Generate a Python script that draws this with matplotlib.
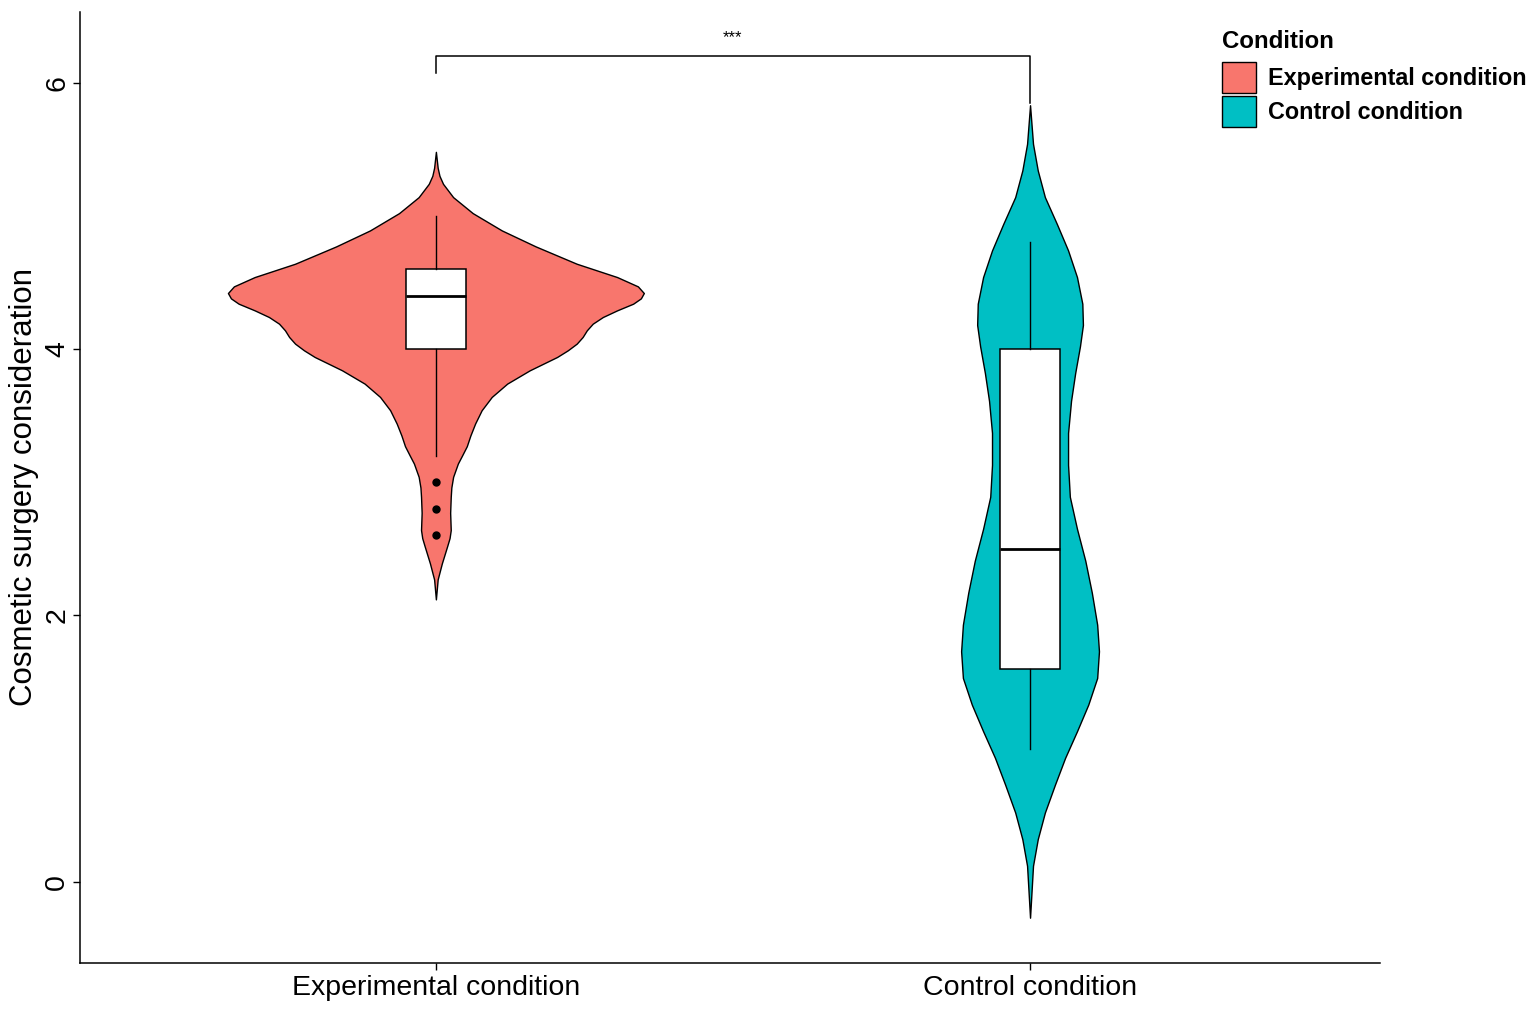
import matplotlib.pyplot as plt
from matplotlib.patches import Patch
import numpy as np

plt.rcParams['font.family'] = ['Liberation Sans', 'DejaVu Sans']

conditions = ['Experimental condition', 'Control condition']
colors = ['#F8766D', '#00BFC4']

# violin outlines: value, half width (x units)
exp_y = [5.48, 5.36, 5.30, 5.24, 5.14, 5.02, 4.89, 4.77, 4.64, 4.54, 4.47, 4.42, 4.38, 4.34,
         4.29, 4.24, 4.19, 4.14, 4.09, 4.04, 3.99, 3.94, 3.84, 3.74, 3.64, 3.54, 3.44, 3.35,
         3.27, 3.20, 3.14, 3.04, 2.96, 2.89, 2.77, 2.64, 2.58, 2.52, 2.39, 2.27, 2.12]
exp_w = [0.0, 0.003, 0.006, 0.012, 0.029, 0.062, 0.111, 0.168, 0.237, 0.305, 0.340, 0.350,
         0.345, 0.332, 0.305, 0.281, 0.264, 0.254, 0.247, 0.237, 0.222, 0.204, 0.158, 0.120,
         0.094, 0.077, 0.066, 0.058, 0.052, 0.044, 0.037, 0.029, 0.026, 0.025, 0.024, 0.025,
         0.023, 0.019, 0.010, 0.003, 0.0]
ctl_y = [5.83, 5.54, 5.34, 5.14, 4.94, 4.74, 4.54, 4.34, 4.18, 4.02, 3.82, 3.61, 3.37, 3.13,
         2.89, 2.65, 2.41, 2.17, 1.93, 1.73, 1.53, 1.33, 1.13, 0.93, 0.73, 0.52, 0.32, 0.12,
         -0.27]
ctl_w = [0.0, 0.005, 0.013, 0.025, 0.045, 0.064, 0.079, 0.088, 0.089, 0.084, 0.076, 0.069,
         0.064, 0.064, 0.067, 0.079, 0.093, 0.104, 0.113, 0.116, 0.113, 0.098, 0.079, 0.059,
         0.042, 0.025, 0.013, 0.005, 0.0]

# box plot summaries
q1 = [4.0, 1.6]
med = [4.4, 2.5]
q3 = [4.6, 4.0]
whislo = [3.2, 1.0]
whishi = [5.0, 4.8]
fliers = [[3.0, 2.8, 2.6], []]

# significance bracket
bracket_y = 6.2
tip_ends = [6.075, 5.85]
sig_label = '***'

fig = plt.figure(figsize=(15.35, 10.14), dpi=100)
ax = fig.add_axes([80 / 1535, 51 / 1014, 1300 / 1535, 951 / 1014])

positions = [1, 2]
for pos, ys, ws, c in zip(positions, [exp_y, ctl_y], [exp_w, ctl_w], colors):
    ys = np.array(ys)
    ws = np.array(ws)
    ax.fill_betweenx(ys, pos - ws, pos + ws, facecolor=c, edgecolor='black', linewidth=1.0,
                     zorder=2)

stats = []
for i in range(2):
    stats.append(dict(med=med[i], q1=q1[i], q3=q3[i], whislo=whislo[i], whishi=whishi[i],
                      fliers=fliers[i]))
ax.bxp(stats, positions=positions, widths=0.1, patch_artist=True, showcaps=False,
       boxprops=dict(facecolor='white', edgecolor='black', linewidth=1.1),
       medianprops=dict(color='black', linewidth=2.0),
       whiskerprops=dict(color='black', linewidth=1.0),
       flierprops=dict(marker='o', markerfacecolor='black', markeredgecolor='black',
                       markersize=5),
       zorder=3)

# bracket
ax.plot([1, 1, 2, 2], [tip_ends[0], bracket_y, bracket_y, tip_ends[1]], color='black',
        linewidth=1.1, zorder=4)
ax.text(1.5, bracket_y + 0.08, sig_label, ha='center', va='bottom', fontsize=12)

ax.set_xlim(0.401, 2.589)
ax.set_ylim(-0.61, 6.53)
ax.set_xticks(positions)
ax.set_xticklabels(conditions, fontsize=20.5)
ax.set_yticks([0, 2, 4, 6])
ax.set_yticklabels(['0', '2', '4', '6'], fontsize=20.5, rotation=90, va='center')
ax.set_ylabel('Cosmetic surgery consideration', fontsize=22.5, labelpad=4)
for s in ['top', 'right']:
    ax.spines[s].set_visible(False)
for s in ['left', 'bottom']:
    ax.spines[s].set_linewidth(1.1)
ax.tick_params(axis='both', length=5, width=1.0, color='black')
ax.tick_params(axis='y', pad=2)

# legend
fig.text(1222 / 1535, 1 - 41 / 1014, 'Condition', fontsize=17.3, fontweight='bold',
         ha='left', va='center')
handles = [Patch(facecolor=c, edgecolor='black', linewidth=1.0) for c in colors]
leg = fig.legend(handles, conditions, loc='upper left',
                 bbox_to_anchor=(1222 / 1535, 1 - 62 / 1014), frameon=False, borderpad=0,
                 borderaxespad=0, prop=dict(weight='bold', size=16.8), handlelength=1.457,
                 handleheight=1.667, handletextpad=0.514, labelspacing=0.14)

fig.savefig('out.png', dpi=100)
